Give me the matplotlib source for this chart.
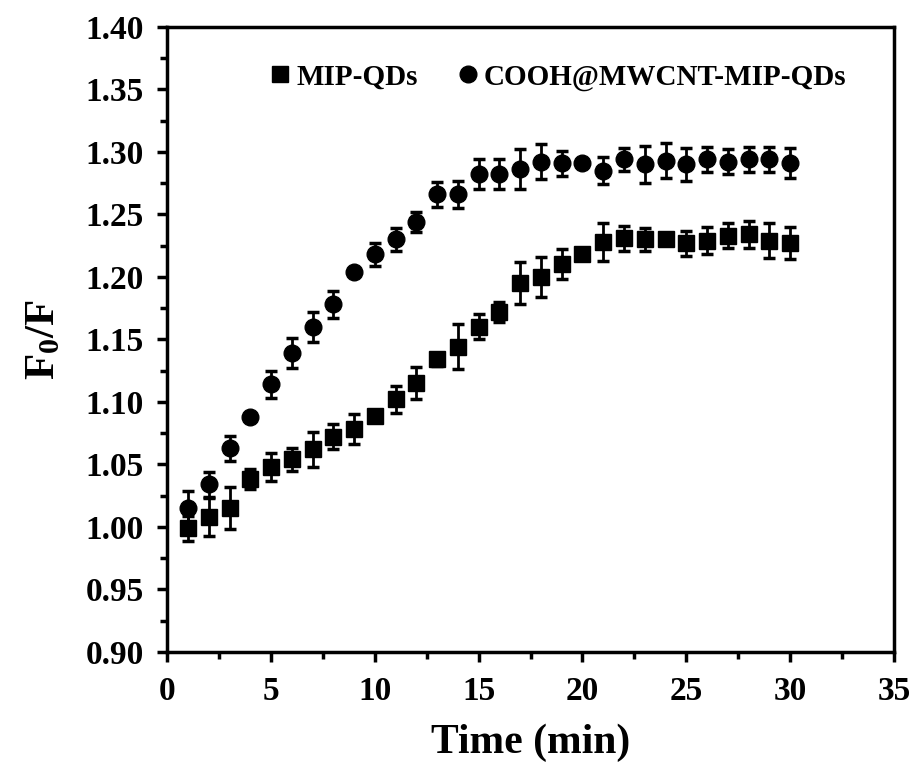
import numpy as np
import matplotlib
matplotlib.use("Agg")
import matplotlib.pyplot as plt
from matplotlib.lines import Line2D
from matplotlib.ticker import MultipleLocator, FormatStrFormatter

plt.rcParams['font.family'] = 'Liberation Serif'
plt.rcParams['font.weight'] = 'bold'
plt.rcParams['mathtext.fontset'] = 'custom'
plt.rcParams['mathtext.rm'] = 'Liberation Serif:bold'
plt.rcParams['mathtext.bf'] = 'Liberation Serif:bold'
plt.rcParams['mathtext.it'] = 'Liberation Serif:bold'

time_min = np.arange(1, 31)

mip_qds = [0.999, 1.008, 1.015, 1.038, 1.048, 1.054, 1.062, 1.072, 1.078, 1.089,
           1.102, 1.115, 1.134, 1.144, 1.160, 1.172, 1.195, 1.200, 1.210, 1.218,
           1.228, 1.231, 1.230, 1.230, 1.227, 1.229, 1.233, 1.234, 1.229, 1.227]
mip_qds_err = [0.010, 0.015, 0.017, 0.008, 0.011, 0.009, 0.014, 0.010, 0.012, 0.003,
               0.011, 0.013, 0.005, 0.018, 0.010, 0.008, 0.017, 0.016, 0.012, 0.003,
               0.015, 0.010, 0.009, 0.003, 0.010, 0.011, 0.010, 0.011, 0.014, 0.013]

cnt_mip_qds = [1.015, 1.034, 1.063, 1.088, 1.114, 1.139, 1.160, 1.178, 1.204, 1.218,
               1.230, 1.244, 1.266, 1.266, 1.282, 1.282, 1.286, 1.292, 1.291, 1.291,
               1.285, 1.294, 1.290, 1.293, 1.290, 1.294, 1.292, 1.294, 1.294, 1.291]
cnt_mip_qds_err = [0.014, 0.010, 0.010, 0.003, 0.011, 0.012, 0.012, 0.011, 0.003, 0.009,
                   0.009, 0.008, 0.010, 0.011, 0.012, 0.012, 0.016, 0.014, 0.010, 0.003,
                   0.011, 0.009, 0.015, 0.014, 0.013, 0.010, 0.010, 0.010, 0.010, 0.012]

fig = plt.figure(figsize=(9.14, 7.67), dpi=100)
ax = fig.add_axes([0.183, 0.150, 0.795, 0.815])

err_style = dict(fmt='none', ecolor='black', elinewidth=2, capsize=4, capthick=2.5)
ax.errorbar(time_min, mip_qds, yerr=mip_qds_err, **err_style)
ax.errorbar(time_min, cnt_mip_qds, yerr=cnt_mip_qds_err, **err_style)
ax.plot(time_min, mip_qds, 's', color='black', markersize=11.5, linestyle='none')
ax.plot(time_min, cnt_mip_qds, 'o', color='black', markersize=12, linestyle='none')

ax.set_xlim(0, 35)
ax.set_ylim(0.90, 1.40)
ax.xaxis.set_major_locator(MultipleLocator(5))
ax.xaxis.set_minor_locator(MultipleLocator(2.5))
ax.yaxis.set_major_locator(MultipleLocator(0.05))
ax.yaxis.set_minor_locator(MultipleLocator(0.025))
ax.yaxis.set_major_formatter(FormatStrFormatter('%.2f'))

for side in ax.spines.values():
    side.set_linewidth(2.5)
ax.tick_params(which='major', direction='out', length=7, width=2.5, labelsize=24, pad=10)
ax.tick_params(which='minor', direction='out', length=5, width=2.5)
for lbl in ax.get_xticklabels() + ax.get_yticklabels():
    lbl.set_fontweight('bold')

ax.set_xlabel('Time (min)', fontsize=30, fontweight='bold', labelpad=12)
ax.set_ylabel(r'$\mathbf{F_0/F}$', fontsize=31, labelpad=16)

handles = [Line2D([], [], marker='s', color='black', linestyle='none', markersize=12),
           Line2D([], [], marker='o', color='black', linestyle='none', markersize=12)]
ax.legend(handles, ['MIP-QDs', 'COOH@MWCNT-MIP-QDs'], ncol=2, frameon=False,
          loc='center', bbox_to_anchor=(0.535, 0.92),
          handletextpad=0.05, columnspacing=1.2, handlelength=1.0,
          prop={'weight': 'bold', 'size': 21})

fig.savefig('out.png', dpi=100)
